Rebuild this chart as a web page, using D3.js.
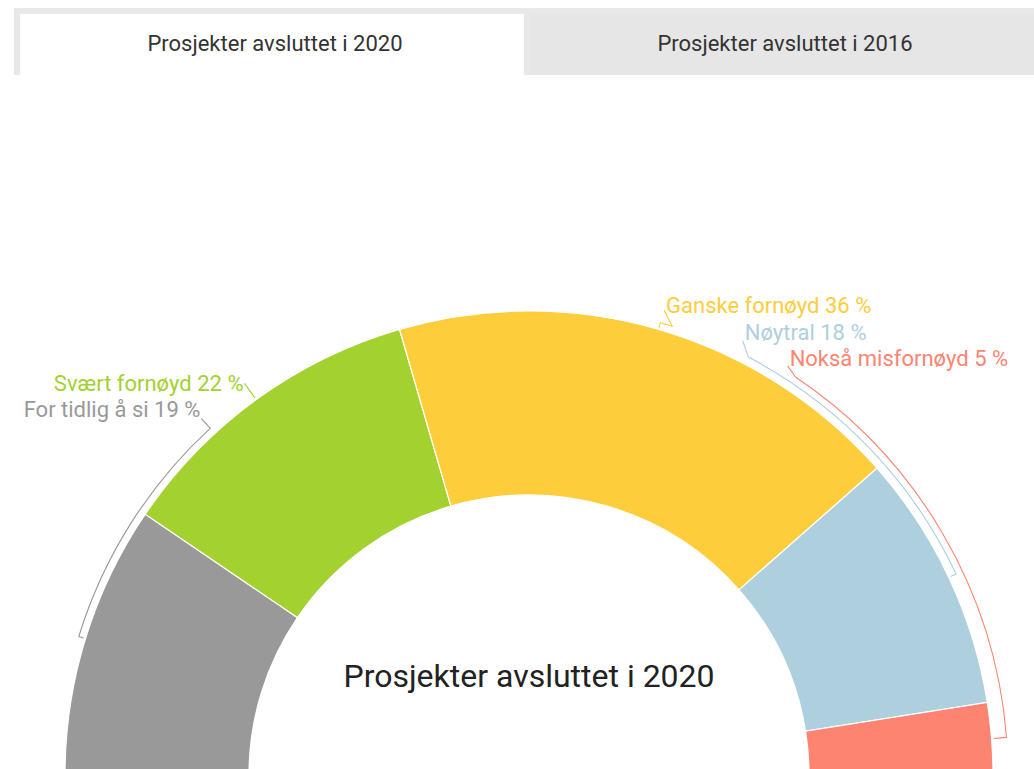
<!DOCTYPE html>
<html>
<head>
<meta charset="utf-8">
<script src="https://cdn.jsdelivr.net/npm/d3@7"></script>
<style>
  html, body { margin: 0; padding: 0; background: #fff; }
  svg { display: block; font-family: Roboto, "Noto Sans", sans-serif; }
</style>
</head>
<body>
<svg id="chart" width="1034" height="769"></svg>
<script>
// --- data ---------------------------------------------------------------
const tabs = ["Prosjekter avsluttet i 2020", "Prosjekter avsluttet i 2016"];
const activeTab = 0;
const title = "Prosjekter avsluttet i 2020";
const categories = ["For tidlig å si", "Svært fornøyd", "Ganske fornøyd", "Nøytral", "Nokså misfornøyd"];
const values = [19, 22, 36, 18, 5];
const colors = ["#999999", "#a3d12f", "#fdcd3b", "#aecfdd", "#fd8471"];

// --- label layout (angle in degrees where each label sits, baseline shift,
//     radius of the bracket that runs along the outside of the ring) -------
const labelAngle = [-42.6, -36, 16.2, 26.2, 32.3];
const labelDy = [-2, 8, 3, -1, 0];
const bracketRadius = [471, 469, 471, 472, 479];

// --- geometry -------------------------------------------------------------
const W = 1034, H = 769;
const cx = 529, cy = 775;
const outerR = 464, innerR = 280, labelR = 484;

const svg = d3.select("#chart");

// tab strip
const tabX = d3.scaleBand().domain(tabs).range([20, 1040]).padding(0);
svg.append("rect").attr("x", 14).attr("y", 8).attr("width", W - 14).attr("height", 67).attr("fill", "#e8e8e8");
svg.selectAll("rect.tab").data(tabs).join("rect")
  .attr("class", "tab")
  .attr("x", d => tabX(d))
  .attr("y", 14)
  .attr("width", tabX.bandwidth() - 6)
  .attr("height", 61)
  .attr("fill", (d, i) => i === activeTab ? "#ffffff" : "#e6e6e6");
svg.selectAll("text.tab").data(tabs).join("text")
  .attr("class", "tab")
  .attr("x", d => tabX(d) + tabX.bandwidth() / 2)
  .attr("y", 51)
  .attr("text-anchor", "middle")
  .attr("font-size", 22)
  .attr("fill", "#333")
  .text(d => d);

// half donut
const rad = Math.PI / 180;
const pie = d3.pie().sort(null).startAngle(-Math.PI / 2).endAngle(Math.PI / 2);
const arcs = pie(values);
const arc = d3.arc().innerRadius(innerR).outerRadius(outerR);
const g = svg.append("g").attr("transform", `translate(${cx},${cy})`);

g.selectAll("path.slice").data(arcs).join("path")
  .attr("class", "slice")
  .attr("d", arc)
  .attr("fill", (d, i) => colors[i])
  .attr("stroke", "#fff")
  .attr("stroke-width", 1.2);

// polar helper in the same convention as d3.arc (0 = up, clockwise)
const polar = (deg, r) => [Math.sin(deg * rad) * r, -Math.cos(deg * rad) * r];

// connectors: label -> bracket ring -> along ring to slice middle -> tick
arcs.forEach((a, i) => {
  const mid = (a.startAngle + a.endAngle) / 2 / rad;
  const side = labelAngle[i] >= 0 ? 1 : -1;
  const R = bracketRadius[i];
  const A = polar(labelAngle[i], labelR);
  const bAng = side > 0 ? labelAngle[i] + 1.5 : labelAngle[i];
  const B = polar(bAng, R);
  const tick = polar(mid, outerR + 2);
  const path = d3.path();
  path.moveTo(A[0], A[1]);
  path.lineTo(B[0], B[1]);
  if (Math.abs(mid - bAng) > 0.5) {
    // d3.path arc uses angle 0 = +x axis
    path.arc(0, 0, R, (bAng - 90) * rad, (mid - 90) * rad, mid < bAng);
  }
  path.lineTo(tick[0], tick[1]);
  g.append("path")
    .attr("d", path.toString())
    .attr("fill", "none")
    .attr("stroke", colors[i])
    .attr("stroke-width", 1.1);

  g.append("text")
    .attr("x", A[0] + (side > 0 ? 2 : -1))
    .attr("y", A[1] + labelDy[i])
    .attr("text-anchor", side > 0 ? "start" : "end")
    .attr("font-size", 22)
    .attr("fill", colors[i])
    .text(`${categories[i]} ${values[i]} %`);
});

// centre title
g.append("text")
  .attr("x", 0)
  .attr("y", 687 - cy)
  .attr("text-anchor", "middle")
  .attr("font-size", 32)
  .attr("fill", "#222")
  .text(title);
</script>
</body>
</html>
